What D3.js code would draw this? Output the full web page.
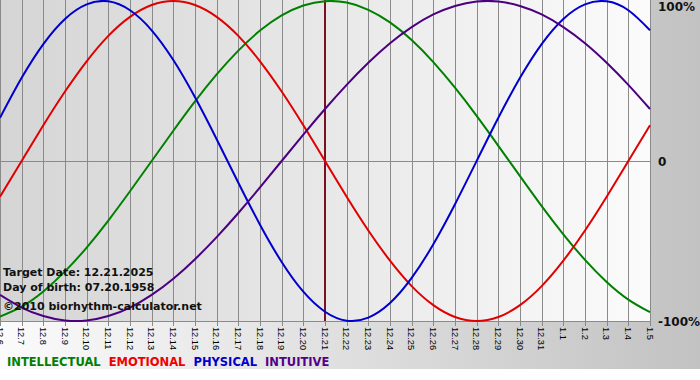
<!DOCTYPE html>
<html>
<head>
<meta charset="utf-8">
<script src="https://cdn.jsdelivr.net/npm/d3@7"></script>
<style>
  body { margin: 0; background: #fff; }
  svg { display: block; }
</style>
</head>
<body>
<svg width="700" height="380"></svg>
<script>
// days shown on the x axis (month.day)
var days = ['12.6','12.7','12.8','12.9','12.10','12.11','12.12','12.13','12.14','12.15',
    '12.16','12.17','12.18','12.19','12.20','12.21','12.22','12.23','12.24','12.25',
    '12.26','12.27','12.28','12.29','12.30','12.31','1.1','1.2','1.3','1.4','1.5'];

// cycle values, one per day (-1 .. 1)
var intellectual = [-0.972,-0.910,-0.815,-0.690,-0.541,-0.372,-0.189,0,0.189,0.372,0.541,0.690,0.815,0.910,0.972,
    0.999,0.990,0.945,0.866,0.756,0.618,0.458,0.282,0.095,-0.095,-0.282,-0.458,-0.618,-0.756,-0.866,-0.945];
var emotional = [-0.223,0,0.223,0.434,0.623,0.782,0.901,0.975,1,0.975,0.901,0.782,0.623,0.434,0.223,
    0,-0.223,-0.434,-0.623,-0.782,-0.901,-0.975,-1,-0.975,-0.901,-0.782,-0.623,-0.434,-0.223,0,0.223];
var physical = [0.270,0.520,0.731,0.888,0.979,0.998,0.942,0.817,0.631,0.398,0.136,-0.136,-0.398,-0.631,-0.817,
    -0.942,-0.998,-0.979,-0.888,-0.731,-0.520,-0.270,0,0.270,0.520,0.731,0.888,0.979,0.998,0.942,0.817];
var intuitive = [-0.837,-0.916,-0.969,-0.997,-0.997,-0.969,-0.916,-0.837,-0.736,-0.614,-0.476,-0.325,-0.165,0,0.165,
    0.325,0.476,0.614,0.736,0.837,0.916,0.969,0.997,0.997,0.969,0.916,0.837,0.736,0.614,0.476,0.325];

var yTicks = [1, 0, -1];
var yTickLabels = ['100%', '0', '-100%'];
var targetDay = '12.21';
var infoLines = ['Target Date: 12.21.2025', 'Day of birth: 07.20.1958', '\u00a92010 biorhythm-calculator.net'];
var legendNames = ['INTELLECTUAL', 'EMOTIONAL', 'PHYSICAL', 'INTUITIVE'];

var series = [
    {name: 'INTELLECTUAL', values: intellectual, color: '#008000', label: '#008000'},
    {name: 'EMOTIONAL', values: emotional, color: '#e00000', label: '#f00000'},
    {name: 'PHYSICAL', values: physical, color: '#0000cc', label: '#0000cc'},
    {name: 'INTUITIVE', values: intuitive, color: '#4b0082', label: '#550088'}
];

var svg = d3.select('svg');
var plotW = 651, plotH = 321;

var x = d3.scalePoint().domain(days).range([0, 650]);
var y = d3.scaleLinear().domain([-1, 1]).range([321, 1]);

// background gradients
var defs = svg.append('defs');
var bgGrad = defs.append('linearGradient').attr('id', 'bgGrad');
bgGrad.append('stop').attr('offset', '0%').attr('stop-color', '#fbfbfb');
bgGrad.append('stop').attr('offset', '100%').attr('stop-color', '#c2c2c2');
var plotGrad = defs.append('linearGradient').attr('id', 'plotGrad');
plotGrad.append('stop').attr('offset', '0%').attr('stop-color', '#d5d5d5');
plotGrad.append('stop').attr('offset', '100%').attr('stop-color', '#fbfbfb');

svg.append('rect').attr('width', 700).attr('height', 369).attr('fill', 'url(#bgGrad)');
svg.append('rect').attr('width', plotW).attr('height', plotH).attr('fill', 'url(#plotGrad)');

function px(v) { return Math.round(v) + 0.5; }

// vertical day grid, running a few px below the plot as ticks
svg.append('g').selectAll('line')
    .data(days)
    .enter().append('line')
    .attr('x1', function(d) { return px(x(d)); })
    .attr('x2', function(d) { return px(x(d)); })
    .attr('y1', 0)
    .attr('y2', 326)
    .attr('stroke', '#8a8a8a')
    .attr('stroke-width', 1);

// zero line and bottom edge
svg.append('line')
    .attr('x1', 0).attr('x2', plotW)
    .attr('y1', px(y(0))).attr('y2', px(y(0)))
    .attr('stroke', '#8a8a8a');
svg.append('line')
    .attr('x1', 0).attr('x2', plotW)
    .attr('y1', px(y(-1))).attr('y2', px(y(-1)))
    .attr('stroke', '#8a8a8a');

// day labels, rotated to read downward
svg.append('g').selectAll('text')
    .data(days)
    .enter().append('text')
    .attr('transform', function(d) { return 'translate(' + x(d) + ',327) rotate(90)'; })
    .attr('dy', '0.35em')
    .style('font-family', '"Liberation Sans", Arial, sans-serif')
    .style('font-size', '9.2px')
    .attr('fill', '#000')
    .text(function(d) { return d; });

// right side percentage labels
svg.append('g').selectAll('text')
    .data(yTicks)
    .enter().append('text')
    .attr('x', 658)
    .attr('y', function(d) { return Math.max(y(d) + 5, 11); })
    .style('font-family', '"DejaVu Sans", Verdana, sans-serif')
    .style('font-size', '12px')
    .style('font-weight', 'bold')
    .attr('fill', '#111')
    .text(function(d, i) { return yTickLabels[i]; });

// target day marker
svg.append('line')
    .attr('x1', x(targetDay)).attr('x2', x(targetDay))
    .attr('y1', 0).attr('y2', plotH)
    .attr('stroke', '#7a1020')
    .attr('stroke-width', 2);

// biorhythm curves
var line = d3.line()
    .x(function(d, i) { return x(days[i]); })
    .y(function(d) { return y(d); })
    .curve(d3.curveNatural);

svg.append('g').selectAll('path')
    .data(series)
    .enter().append('path')
    .attr('d', function(s) { return line(s.values); })
    .attr('fill', 'none')
    .attr('stroke', function(s) { return s.color; })
    .attr('stroke-width', 2);

// info text in the lower left of the plot
svg.append('g').selectAll('text')
    .data(infoLines)
    .enter().append('text')
    .attr('x', 3)
    .attr('y', function(d, i) { return [276, 291, 310][i]; })
    .style('font-family', '"DejaVu Sans", Verdana, sans-serif')
    .style('font-size', '11px')
    .style('font-weight', 'bold')
    .attr('fill', '#111')
    .text(function(d) { return d; });

// legend
var legX = 7;
legendNames.forEach(function(name, i) {
    var t = svg.append('text')
        .attr('x', legX)
        .attr('y', 366)
        .style('font-family', '"DejaVu Sans", Verdana, sans-serif')
        .style('font-size', '11.5px')
        .style('font-weight', 'bold')
        .attr('fill', series[i].label)
        .text(name);
    legX += t.node().getComputedTextLength() + 8;
});
</script>
</body>
</html>
